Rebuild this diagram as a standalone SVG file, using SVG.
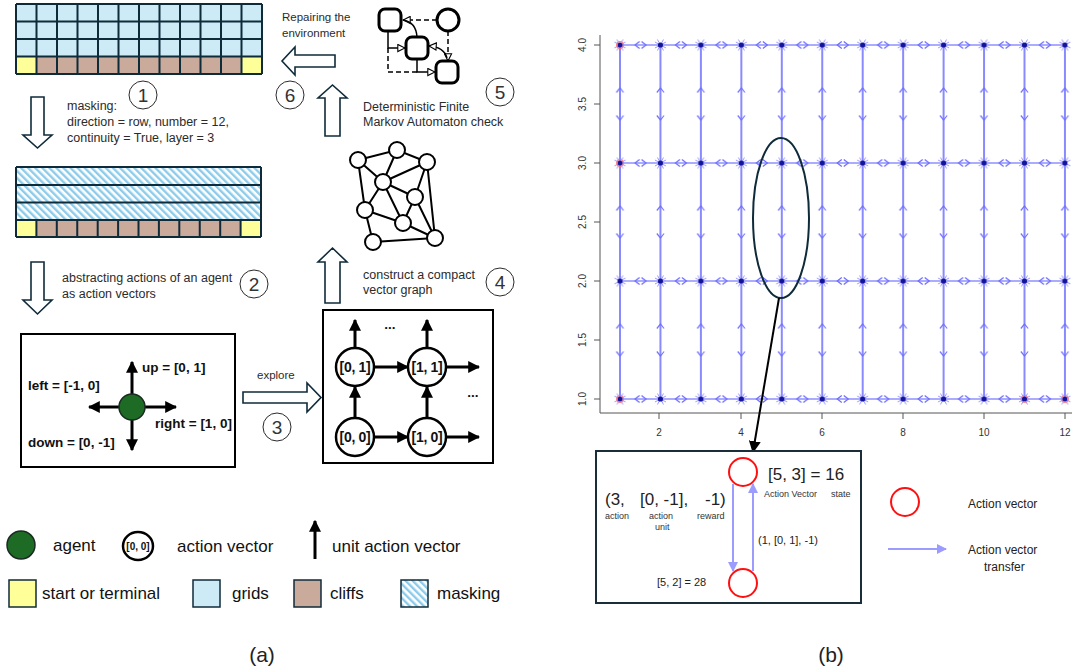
<svg xmlns="http://www.w3.org/2000/svg" xmlns:xlink="http://www.w3.org/1999/xlink" width="1078" height="670" viewBox="0 0 1078 670">
  <style>
    text { font-family: "Liberation Sans", Arial, sans-serif; fill: #2b2b2b; }
    .note { font-size: 12.5px; }
    .num { font-size: 19px; fill: #333; text-anchor: middle; }
    .numc { fill: #fff; stroke: #2b2b2b; stroke-width: 1; }
    .bold { font-weight: bold; font-size: 13.5px; fill: #111; }
    .lbl { font-weight: bold; font-size: 14px; fill: #111; text-anchor: middle; letter-spacing: -0.3px; }
    .legend { font-size: 17px; fill: #111; }
    .cap { font-size: 21px; fill: #222; text-anchor: middle; }
    .grid { stroke: #0f2b3a; stroke-width: 2; fill: none; }
    .block { fill: #fff; stroke: #0f2b3a; stroke-width: 1.6; }
    .thick { stroke: #000; stroke-width: 3; fill: none; }
    .node { fill: #fff; stroke: #000; stroke-width: 2.5; }
    .gnode { fill: #fff; stroke: #000; stroke-width: 2; }
    .gedge { stroke: #000; stroke-width: 2; fill: none; }
    .auto { fill: #fff; stroke: #000; stroke-width: 3; }
    .aedge { stroke: #000; stroke-width: 1.5; fill: none; }
    .dash { stroke-dasharray: 5 3; }
    .axis { stroke: #555; stroke-width: 1; fill: none; }
    .tick { font-size: 10px; fill: #333; text-anchor: middle; }
    .red { fill: #fff; stroke: #ff1010; stroke-width: 2; }
    .flow { stroke: #9c9cff; stroke-width: 2; fill: none; }
    .small { font-size: 9px; fill: #333; }
  </style>
  <defs>
    <pattern id="hatch" patternUnits="userSpaceOnUse" width="5" height="5" patternTransform="rotate(-45)">
      <rect width="5" height="5" fill="#fff"/>
      <rect width="2.4" height="5" fill="#8ccbea"/>
    </pattern>
    <marker id="solidHead" viewBox="0 0 10 10" refX="9" refY="5" markerWidth="4" markerHeight="4" orient="auto" markerUnits="strokeWidth">
      <path d="M0,0 L10,5 L0,10 Z" fill="#000"/>
    </marker>
    <marker id="thinHead" viewBox="0 0 10 10" refX="9" refY="5" markerWidth="6" markerHeight="6" orient="auto" markerUnits="strokeWidth">
      <path d="M0,0 L10,5 L0,10 Z" fill="#000"/>
    </marker>
    <marker id="openHead" viewBox="0 0 10 10" refX="9" refY="5" markerWidth="6" markerHeight="6" orient="auto-start-reverse" markerUnits="strokeWidth">
      <path d="M1,1 L9,5 L1,9 Z" fill="#fff" stroke="#000" stroke-width="1.2"/>
    </marker>
    <marker id="blueHead" viewBox="0 0 10 10" refX="9" refY="5" markerWidth="5" markerHeight="5" orient="auto" markerUnits="strokeWidth">
      <path d="M0,0 L10,5 L0,10 Z" fill="#9c9cff"/>
    </marker>
    <!-- plot glyphs: node bursts, horizontal and vertical chevrons -->
    <pattern id="plotNodes" patternUnits="userSpaceOnUse" x="599.775" y="-14" width="40.45" height="118">
      <g transform="translate(20.225,59)" stroke="#8a8aff" stroke-width="0.9">
        <path d="M0,0L5.5,3M0,0L3,5.5M0,0L-3,5.5M0,0L-5.5,3M0,0L-5.5,-3M0,0L-3,-5.5M0,0L3,-5.5M0,0L5.5,-3"/>
        <circle r="2.6" fill="#14149a" stroke="none"/>
      </g>
    </pattern>
    <pattern id="plotH" patternUnits="userSpaceOnUse" x="620" y="-14" width="40.45" height="118">
      <g stroke="#6a6aff" stroke-width="1.2" fill="none">
        <polyline points="19.5,55.5 15,59 19.5,62.5"/>
        <polyline points="21.5,55.5 26,59 21.5,62.5"/>
      </g>
    </pattern>
    <pattern id="plotV" patternUnits="userSpaceOnUse" x="599.775" y="45" width="40.45" height="118">
      <g stroke="#7070ff" stroke-width="1.2" fill="none">
        <polyline points="16.6,47.5 20.225,43 23.8,47.5"/>
        <polyline points="16.6,70.5 20.225,75 23.8,70.5"/>
      </g>
    </pattern>
  </defs>

  <rect width="1078" height="670" fill="#fff"/>

  <!-- (a) environment grid -->
  <g id="grid-env">
    <rect x="16" y="4" width="246" height="52.5" fill="#cdebf6"/>
    <rect x="16" y="56.5" width="20.5" height="17.5" fill="#ffff99"/>
    <rect x="36.5" y="56.5" width="205" height="17.5" fill="#c9aa9b"/>
    <rect x="241.5" y="56.5" width="20.5" height="17.5" fill="#ffff99"/>
    <path class="grid" d="M16,4H262M16,21.5H262M16,39H262M16,56.5H262M16,74H262M16,4V74M36.5,4V74M57,4V74M77.5,4V74M98,4V74M118.5,4V74M139,4V74M159.5,4V74M180,4V74M200.5,4V74M221,4V74M241.5,4V74M262,4V74"/>
  </g>

  <!-- masked grid -->
  <g id="grid-masked">
    <rect x="16" y="167" width="245" height="53" fill="url(#hatch)"/>
    <rect x="16" y="220" width="20.4" height="17" fill="#ffff99"/>
    <rect x="36.4" y="220" width="204.2" height="17" fill="#c9aa9b"/>
    <rect x="240.6" y="220" width="20.4" height="17" fill="#ffff99"/>
    <path class="grid" d="M16,167H261M16,185H261M16,202.5H261M16,220H261M16,237H261M16,167V237M261,167V237M36.4,220V237M56.8,220V237M77.25,220V237M97.7,220V237M118.1,220V237M138.5,220V237M158.9,220V237M179.3,220V237M199.75,220V237M220.2,220V237M240.6,220V237"/>
  </g>

  <!-- step 1: masking -->
  <g id="step-1">
    <path class="block" d="M31,97H44V135H52L37.5,148L23,135H31Z"/>
    <circle class="numc" cx="143" cy="95" r="14"/>
    <text class="num" x="143" y="102">1</text>
    <text class="note" x="67" y="110">masking:</text>
    <text class="note" x="67" y="126">direction = row, number = 12,</text>
    <text class="note" x="67" y="142">continuity = True, layer = 3</text>
  </g>

  <!-- step 2: abstraction -->
  <g id="step-2">
    <path class="block" d="M31,262H44V300H52L37.5,314L23,300H31Z"/>
    <circle class="numc" cx="254" cy="284" r="14"/>
    <text class="num" x="254" y="291">2</text>
    <text class="note" x="62" y="282">abstracting actions of an agent</text>
    <text class="note" x="62" y="298">as action vectors</text>
  </g>

  <!-- agent with unit actions -->
  <g id="agent-box">
    <rect x="21" y="334" width="214" height="133" fill="#fff" stroke="#000" stroke-width="2"/>
    <line class="thick" x1="132" y1="395" x2="132" y2="362" marker-end="url(#solidHead)"/>
    <line class="thick" x1="132" y1="419" x2="132" y2="450" marker-end="url(#solidHead)"/>
    <line class="thick" x1="120" y1="407" x2="89" y2="407" marker-end="url(#solidHead)"/>
    <line class="thick" x1="144" y1="407" x2="176" y2="407" marker-end="url(#solidHead)"/>
    <circle cx="132" cy="407" r="13" fill="#1e6b26" stroke="#1b2b22" stroke-width="1.5"/>
    <text class="bold" x="142" y="372">up = [0, 1]</text>
    <text class="bold" x="28" y="390">left = [-1, 0]</text>
    <text class="bold" x="155" y="428">right = [1, 0]</text>
    <text class="bold" x="28" y="447">down = [0, -1]</text>
  </g>

  <!-- step 3: explore -->
  <g id="step-3">
    <path class="block" d="M243,392H307V383L321,397.5L307,412V403H243Z"/>
    <text class="note" x="257" y="379" style="font-size:11.5px">explore</text>
    <circle class="numc" cx="277" cy="427" r="14"/>
    <text class="num" x="277" y="434">3</text>
  </g>

  <!-- action vector lattice -->
  <g id="lattice-box">
    <rect x="323" y="310" width="170" height="153" fill="#fff" stroke="#000" stroke-width="2"/>
    <g>
      <line class="thick" x1="355" y1="418" x2="355" y2="387" marker-end="url(#solidHead)"/>
      <line class="thick" x1="427" y1="418" x2="427" y2="387" marker-end="url(#solidHead)"/>
      <line class="thick" x1="355" y1="348" x2="355" y2="320" marker-end="url(#solidHead)"/>
      <line class="thick" x1="427" y1="348" x2="427" y2="320" marker-end="url(#solidHead)"/>
      <line class="thick" x1="374" y1="367" x2="408" y2="367" marker-end="url(#solidHead)"/>
      <line class="thick" x1="374" y1="437" x2="408" y2="437" marker-end="url(#solidHead)"/>
      <line class="thick" x1="446" y1="367" x2="479" y2="367" marker-end="url(#solidHead)"/>
      <line class="thick" x1="446" y1="437" x2="479" y2="437" marker-end="url(#solidHead)"/>
    </g>
    <g id="av-0-1"><circle class="node" cx="355" cy="367" r="19"/><text class="lbl" x="355" y="372">[0, 1]</text></g>
    <g id="av-1-1"><circle class="node" cx="427" cy="367" r="19"/><text class="lbl" x="427" y="372">[1, 1]</text></g>
    <g id="av-0-0"><circle class="node" cx="355" cy="437" r="19"/><text class="lbl" x="355" y="442">[0, 0]</text></g>
    <g id="av-1-0"><circle class="node" cx="427" cy="437" r="19"/><text class="lbl" x="427" y="442">[1, 0]</text></g>
    <text class="bold" x="390" y="329" text-anchor="middle">...</text>
    <text class="bold" x="473" y="397" text-anchor="middle">...</text>
  </g>

  <!-- step 4: compact vector graph -->
  <g id="step-4">
    <path class="block" d="M325,303V262H318L332.5,248L347,262H340V303Z"/>
    <text class="note" x="363" y="279">construct a compact</text>
    <text class="note" x="363" y="294">vector graph</text>
    <circle class="numc" cx="500" cy="282" r="14"/>
    <text class="num" x="500" y="289">4</text>
  </g>

  <g id="vector-graph">
    <path class="gedge" d="M358,160L397,150L427,162M358,160L383,182M397,150L383,182M427,162L383,182M427,162L415,197M427,162L435,238M358,160L365,210M383,182L365,210M383,182L403,223M383,182L415,197M415,197L403,223M415,197L435,238M365,210L403,223M365,210L373,242M403,223L435,238M373,242L435,238"/>
    <circle class="gnode" cx="358" cy="160" r="8"/>
    <circle class="gnode" cx="397" cy="150" r="8"/>
    <circle class="gnode" cx="427" cy="162" r="8"/>
    <circle class="gnode" cx="383" cy="182" r="8"/>
    <circle class="gnode" cx="415" cy="197" r="8"/>
    <circle class="gnode" cx="365" cy="210" r="8"/>
    <circle class="gnode" cx="403" cy="223" r="8"/>
    <circle class="gnode" cx="373" cy="242" r="8"/>
    <circle class="gnode" cx="435" cy="238" r="8"/>
  </g>

  <!-- step 5: automaton check -->
  <g id="step-5">
    <path class="block" d="M325,136V98H318L332.5,85L347,98H340V136Z"/>
    <text class="note" x="363" y="111">Deterministic Finite</text>
    <text class="note" x="363" y="126">Markov Automaton check</text>
    <circle class="numc" cx="500" cy="92" r="14"/>
    <text class="num" x="500" y="99">5</text>
  </g>

  <g id="automaton">
    <path class="aedge dash" d="M437,20H403" marker-end="url(#openHead)"/>
    <path class="aedge" d="M417,37Q416,22 403,20"/>
    <path class="aedge dash" d="M448,31V61" marker-end="url(#openHead)"/>
    <path class="aedge" d="M447,58Q444,47 429,46" marker-end="url(#openHead)"/>
    <path class="aedge" d="M388,31V48H405" marker-end="url(#openHead)"/>
    <path class="aedge dash" d="M388,48V72H417"/>
    <path class="aedge" d="M417,59V72H435" marker-end="url(#openHead)"/>
    <rect class="auto" x="379" y="9" width="22" height="22" rx="6"/>
    <circle class="auto" cx="448" cy="20" r="11"/>
    <rect class="auto" x="406" y="37" width="22" height="22" rx="6"/>
    <rect class="auto" x="436" y="61" width="22" height="22" rx="6"/>
  </g>

  <!-- step 6: repair -->
  <g id="step-6">
    <path class="block" d="M335,55V67H295V75L282,61L295,47V55Z"/>
    <text class="note" x="282" y="21" style="font-size:11.5px">Repairing the</text>
    <text class="note" x="282" y="37" style="font-size:11.5px">environment</text>
    <circle class="numc" cx="290" cy="95" r="14"/>
    <text class="num" x="290" y="102">6</text>
  </g>

  <!-- legend (a) -->
  <g id="legend-a">
    <circle cx="21" cy="545" r="14" fill="#1e6b26" stroke="#1b2b22" stroke-width="1.5"/>
    <text class="legend" x="53" y="551">agent</text>
    <ellipse cx="138" cy="546" rx="15" ry="14" fill="#fff" stroke="#000" stroke-width="2.5"/>
    <text x="138" y="550" text-anchor="middle" style="font-size:10px;font-weight:bold;fill:#111">[0, 0]</text>
    <text class="legend" x="177" y="552">action vector</text>
    <line class="thick" x1="315" y1="559" x2="315" y2="521" marker-end="url(#solidHead)"/>
    <text class="legend" x="332" y="552">unit action vector</text>
    <rect x="9" y="580" width="27" height="27" fill="#ffff99" stroke="#0f2b3a" stroke-width="1.5"/>
    <text class="legend" x="42" y="599">start or terminal</text>
    <rect x="193" y="580" width="27" height="27" fill="#cdebf6" stroke="#0f2b3a" stroke-width="1.5"/>
    <text class="legend" x="232" y="599">grids</text>
    <rect x="294" y="580" width="27" height="27" fill="#c9aa9b" stroke="#0f2b3a" stroke-width="1.5"/>
    <text class="legend" x="330" y="599">cliffs</text>
    <rect x="401" y="580" width="27" height="27" fill="url(#hatch)" stroke="#0f2b3a" stroke-width="1.5"/>
    <text class="legend" x="437" y="599">masking</text>
  </g>

  <text class="cap" x="262" y="662">(a)</text>
  <text class="cap" x="831" y="662">(b)</text>

  <!-- (b) action vector transfer plot -->
  <g id="plot">
    <path class="axis" d="M600,35V413H1072"/>
    <path class="axis" d="M594,45H600M594,104H600M594,163H600M594,222H600M594,281H600M594,340H600M594,399H600M659,413V419M741,413V419M822,413V419M903,413V419M984,413V419M1065,413V419"/>
    <g class="ylab">
      <text class="tick" transform="rotate(-90 586 45)" x="586" y="45">4.0</text>
      <text class="tick" transform="rotate(-90 586 104)" x="586" y="104">3.5</text>
      <text class="tick" transform="rotate(-90 586 163)" x="586" y="163">3.0</text>
      <text class="tick" transform="rotate(-90 586 222)" x="586" y="222">2.5</text>
      <text class="tick" transform="rotate(-90 586 281)" x="586" y="281">2.0</text>
      <text class="tick" transform="rotate(-90 586 340)" x="586" y="340">1.5</text>
      <text class="tick" transform="rotate(-90 586 399)" x="586" y="399">1.0</text>
    </g>
    <g class="xlab">
      <text class="tick" x="659" y="436">2</text>
      <text class="tick" x="741" y="436">4</text>
      <text class="tick" x="822" y="436">6</text>
      <text class="tick" x="903" y="436">8</text>
      <text class="tick" x="984" y="436">10</text>
      <text class="tick" x="1065" y="436">12</text>
    </g>
    <path d="M620,45V399M660.45,45V399M700.9,45V399M741.35,45V399M781.8,45V399M822.25,45V399M862.7,45V399M903.15,45V399M943.6,45V399M984.05,45V399M1024.5,45V399M1064.95,45V399" stroke="#8a8aff" stroke-width="2" fill="none"/>
    <path d="M620,45H1065M620,163H1065M620,281H1065M620,399H1065" stroke="#5b5bff" stroke-width="1.1" fill="none"/>
    <rect x="620" y="-14" width="444.95" height="472" fill="url(#plotH)"/>
    <rect x="599.775" y="45" width="485.4" height="354" fill="url(#plotV)"/>
    <rect x="599.775" y="-14" width="485.4" height="472" fill="url(#plotNodes)"/>
    <g fill="none" stroke="#ff7070" stroke-width="1">
      <circle cx="620" cy="45" r="3.5"/>
      <circle cx="620" cy="163" r="3.5"/>
      <circle cx="620" cy="399" r="3.5"/>
      <circle cx="1024.5" cy="399" r="3.5"/>
      <circle cx="1064.95" cy="399" r="3.5"/>
    </g>
  </g>

  <!-- highlighted pair and zoom link -->
  <g id="highlight">
    <ellipse cx="781" cy="218" rx="28" ry="80" fill="none" stroke="#0f2b3a" stroke-width="2"/>
  </g>
  <g id="connectors">
    <line x1="779" y1="298" x2="753" y2="452" stroke="#000" stroke-width="2" marker-end="url(#thinHead)"/>
  </g>

  <!-- detail of one transfer -->
  <g id="detail-box">
    <rect x="596" y="451" width="265" height="152" fill="#fff" stroke="#1a2e3a" stroke-width="2"/>
    <line class="flow" x1="733" y1="484" x2="733" y2="571" marker-end="url(#blueHead)"/>
    <line class="flow" x1="753" y1="571" x2="753" y2="484" marker-end="url(#blueHead)"/>
    <g id="av-5-3"><circle class="red" cx="743" cy="472" r="14"/></g>
    <g id="av-5-2"><circle class="red" cx="743" cy="583" r="14"/></g>
    <text x="768" y="480" style="font-size:17px;fill:#222">[5, 3] = 16</text>
    <text class="small" x="764" y="497">Action Vector</text>
    <text class="small" x="831" y="497">state</text>
    <text x="605" y="505" style="font-size:17px;fill:#222">(3,</text>
    <text x="640" y="505" style="font-size:17px;fill:#222">[0, -1],</text>
    <text x="705" y="505" style="font-size:17px;fill:#222">-1)</text>
    <text class="small" x="605" y="519">action</text>
    <text class="small" x="649" y="519">action</text>
    <text class="small" x="655" y="530">unit</text>
    <text class="small" x="697" y="519">reward</text>
    <text x="758" y="544" style="font-size:11px;fill:#222">(1, [0, 1], -1)</text>
    <text x="657" y="586" style="font-size:11px;fill:#222">[5, 2] = 28</text>
  </g>

  <!-- legend (b) -->
  <g id="legend-b">
    <circle class="red" cx="905" cy="502" r="14"/>
    <text x="968" y="508" style="font-size:12px;fill:#222">Action vector</text>
    <line class="flow" x1="888" y1="549" x2="946" y2="549" marker-end="url(#blueHead)"/>
    <text x="968" y="554" style="font-size:12px;fill:#222">Action vector</text>
    <text x="984" y="571" style="font-size:12px;fill:#222">transfer</text>
  </g>
</svg>
